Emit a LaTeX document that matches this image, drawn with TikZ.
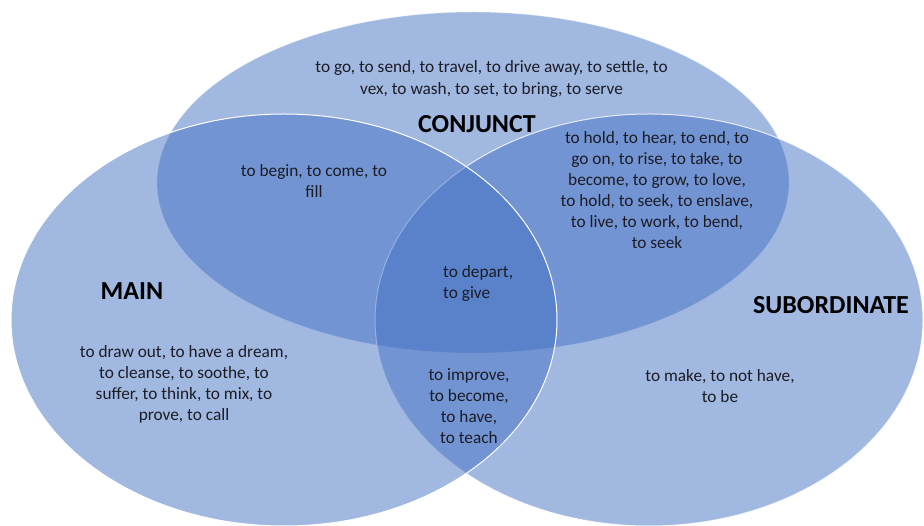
\documentclass[tikz,border=0pt]{standalone}
\usepackage{fontspec}
\setmainfont{Carlito}
\definecolor{vennblue}{RGB}{68,114,196}
\definecolor{txtc}{RGB}{28,28,38}
\tikzset{
  venn/.style={fill=vennblue, fill opacity=0.5, draw=white, line width=1pt},
  body/.style={text=txtc, font=\fontsize{17.3}{21}\selectfont, align=center, inner sep=0pt},
  lbl/.style={text=black, font=\fontsize{26}{30}\selectfont\bfseries, inner sep=0pt, anchor=base},
}
\begin{document}
\begin{tikzpicture}[x=1pt,y=-1pt]
\useasboundingbox (0,0) rectangle (924,526);
\fill[white] (0,0) rectangle (924,526);
% ellipses
\draw[venn, draw opacity=0.25] (473,182.5) ellipse [x radius=316pt, y radius=170.5pt];
\draw[venn, draw opacity=0.8] (649,320) ellipse [x radius=274pt, y radius=206pt];
\draw[venn] (284,320) ellipse [x radius=273pt, y radius=206pt];
% labels
\node[lbl] (conj) at (477,133) {CONJUNCT};
\node[lbl] (main) at (132,300) {MAIN};
\node[lbl] (sub) at (831,314) {SUBORDINATE};
% texts
\node[body, font=\fontsize{17.3}{22}\selectfont] (conjtxt) at (491.5,79)
  {to go, to send, to travel, to drive away, to settle, to\\vex, to wash, to set, to bring, to serve};
\node[body] (mctxt) at (314,181) {to begin, to come, to\\fill};
\node[body] (cstxt) at (657,190)
  {to hold, to hear, to end, to\\go on, to rise, to take, to\\become, to grow, to love,\\to hold, to seek, to enslave,\\to live, to work, to bend,\\to seek};
\node[body, align=left, anchor=west] (alltxt) at (443,283) {to depart,\\to give};
\node[body] (mstxt) at (469,406) {to improve,\\to become,\\to have,\\to teach};
\node[body] (maintxt) at (184,384)
  {to draw out, to have a dream,\\to cleanse, to soothe, to\\suffer, to think, to mix, to\\prove, to call};
\node[body] (subtxt) at (720,386) {to make, to not have,\\to be};
\end{tikzpicture}
\end{document}
